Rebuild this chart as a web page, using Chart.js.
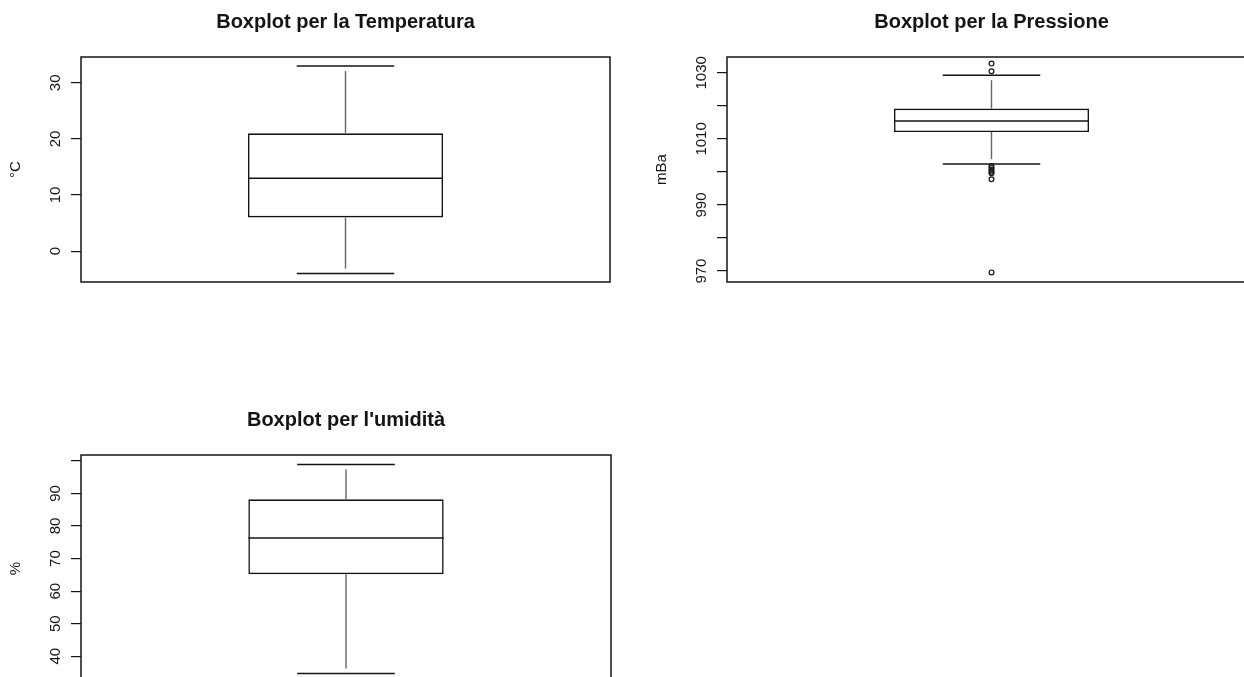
<!DOCTYPE html>
<html>
<head>
<meta charset="utf-8">
<title>Boxplot</title>
<script src="https://cdn.jsdelivr.net/npm/chart.js@4.4.1/dist/chart.umd.min.js"></script>
<style>
  html, body { margin: 0; padding: 0; background: #fff; overflow: hidden; width: 1244px; height: 677px; }
  canvas { position: absolute; }
</style>
</head>
<body>
<canvas id="cTemp" width="622" height="340" style="left:0px;top:0px"></canvas>
<canvas id="cPres" width="640" height="340" style="left:622px;top:0px"></canvas>
<canvas id="cHum" width="622" height="300" style="left:0px;top:398px"></canvas>
<script>
// Five-number summaries: [lower whisker, Q1, median, Q3, upper whisker]
const tempStats = [-4, 6, 13, 21, 33];
const tempOutliers = [];
const tempTicks = [0, 10, 20, 30];
const tempTickLabels = ['0', '10', '20', '30'];
const tempRange = [-5.5, 34.6];

const presStats = [1002.4, 1012.1, 1015.4, 1019.2, 1029.3];
const presOutliers = [1032.8, 1030.5, 1001.8, 1001.2, 1000.6, 1000.1, 999.6, 997.8, 969.6];
const presTicks = [970, 980, 990, 1000, 1010, 1020, 1030];
const presTickLabels = ['970', '', '990', '', '1010', '', '1030'];
const presRange = [966.7, 1034.8];

const humStats = [34.7, 65.2, 76.3, 88.2, 98.9];
const humOutliers = [];
const humTicks = [40, 50, 60, 70, 80, 90, 100];
const humTickLabels = ['40', '50', '60', '70', '80', '90', ''];
const humRange = [32.1, 101.8];

const FONT = '"Liberation Sans", Arial, Helvetica, sans-serif';
const INK = '#141414';

function line(ctx, x1, y1, x2, y2) {
  ctx.beginPath();
  ctx.moveTo(x1, y1);
  ctx.lineTo(x2, y2);
  ctx.stroke();
}

// Draws median, whiskers, staples, the plot frame and the text
function boxplotPlugin(cfg) {
  return {
    id: 'rBoxplot',
    afterDatasetsDraw(chart) {
      const { ctx, chartArea: a } = chart;
      const y = chart.scales.y;
      const bar = chart.getDatasetMeta(0).data[0];
      const [lo, q1, med, q3, hi] = cfg.stats;
      const cx = bar.x;
      const half = bar.width / 2;
      const staple = half / 2;
      const gap = 5;
      ctx.save();
      // whiskers
      ctx.strokeStyle = '#666666';
      ctx.lineWidth = 1.4;
      line(ctx, cx, y.getPixelForValue(q3), cx, y.getPixelForValue(hi) + gap);
      line(ctx, cx, y.getPixelForValue(q1), cx, y.getPixelForValue(lo) - gap);
      // staples
      ctx.strokeStyle = INK;
      ctx.lineWidth = 1.5;
      line(ctx, cx - staple, y.getPixelForValue(hi), cx + staple, y.getPixelForValue(hi));
      line(ctx, cx - staple, y.getPixelForValue(lo), cx + staple, y.getPixelForValue(lo));
      // median
      line(ctx, cx - half, y.getPixelForValue(med), cx + half, y.getPixelForValue(med));
      // frame
      ctx.lineWidth = 1.5;
      ctx.strokeRect(a.left, a.top, a.right - a.left, a.bottom - a.top);
      ctx.restore();
    },
    afterDraw(chart) {
      const { ctx, chartArea: a } = chart;
      const y = chart.scales.y;
      ctx.save();
      ctx.fillStyle = INK;
      // main title
      ctx.font = 'bold 20px ' + FONT;
      ctx.textAlign = 'center';
      ctx.textBaseline = 'alphabetic';
      ctx.fillText(cfg.title, (a.left + a.right) / 2, a.top - 29);
      // tick labels, parallel to the axis
      ctx.font = '15px ' + FONT;
      ctx.textBaseline = 'middle';
      y.ticks.forEach((t, i) => {
        const txt = cfg.tickLabels[i];
        if (!txt) return;
        ctx.save();
        ctx.translate(a.left - 25, y.getPixelForValue(t.value));
        ctx.rotate(-Math.PI / 2);
        ctx.fillText(txt, 0, 0);
        ctx.restore();
      });
      // axis title
      ctx.save();
      ctx.translate(a.left - 65, (a.top + a.bottom) / 2);
      ctx.rotate(-Math.PI / 2);
      ctx.fillText(cfg.yTitle, 0, 0);
      ctx.restore();
      ctx.restore();
    }
  };
}

function makeBoxplot(id, name, cfg) {
  const [lo, q1, med, q3, hi] = cfg.stats;
  new Chart(document.getElementById(id), {
    type: 'bar',
    data: {
      labels: [name],
      datasets: [
        {
          type: 'bar',
          data: [[q1, q3]],
          backgroundColor: '#ffffff',
          borderColor: INK,
          borderWidth: 1.6,
          borderSkipped: false,
          barPercentage: 0.3686,
          categoryPercentage: 1
        },
        {
          type: 'line',
          showLine: false,
          data: cfg.outliers.map(v => ({ x: name, y: v })),
          pointRadius: 2.4,
          pointBorderWidth: 1.2,
          pointBorderColor: INK,
          pointBackgroundColor: 'rgba(0,0,0,0)',
          pointStyle: 'circle'
        }
      ]
    },
    options: {
      responsive: false,
      devicePixelRatio: 1,
      animation: false,
      events: [],
      layout: { padding: cfg.padding },
      plugins: { legend: { display: false }, tooltip: { enabled: false }, title: { display: false } },
      scales: {
        x: { display: false },
        y: {
          min: cfg.range[0],
          max: cfg.range[1],
          bounds: 'data',
          afterBuildTicks: s => { s.ticks = cfg.ticks.map(v => ({ value: v })); },
          afterFit: s => { s.width = 10; },
          ticks: { display: false },
          border: { display: false },
          grid: { drawOnChartArea: false, drawTicks: true, tickLength: 10, color: INK, lineWidth: 1.2 }
        }
      }
    },
    plugins: [boxplotPlugin(cfg)]
  });
}

makeBoxplot('cTemp', 'Temperatura', {
  stats: tempStats, outliers: tempOutliers, ticks: tempTicks, tickLabels: tempTickLabels, range: tempRange,
  title: 'Boxplot per la Temperatura', yTitle: '°C',
  padding: { left: 71, top: 57, right: 12, bottom: 58 }
});

makeBoxplot('cPres', 'Pressione', {
  stats: presStats, outliers: presOutliers, ticks: presTicks, tickLabels: presTickLabels, range: presRange,
  title: 'Boxplot per la Pressione', yTitle: 'mBa',
  padding: { left: 95, top: 57, right: 6, bottom: 58 }
});

makeBoxplot('cHum', 'Umidità', {
  stats: humStats, outliers: humOutliers, ticks: humTicks, tickLabels: humTickLabels, range: humRange,
  title: "Boxplot per l'umidità", yTitle: '%',
  padding: { left: 71, top: 57, right: 11, bottom: 16 }
});
</script>
</body>
</html>
